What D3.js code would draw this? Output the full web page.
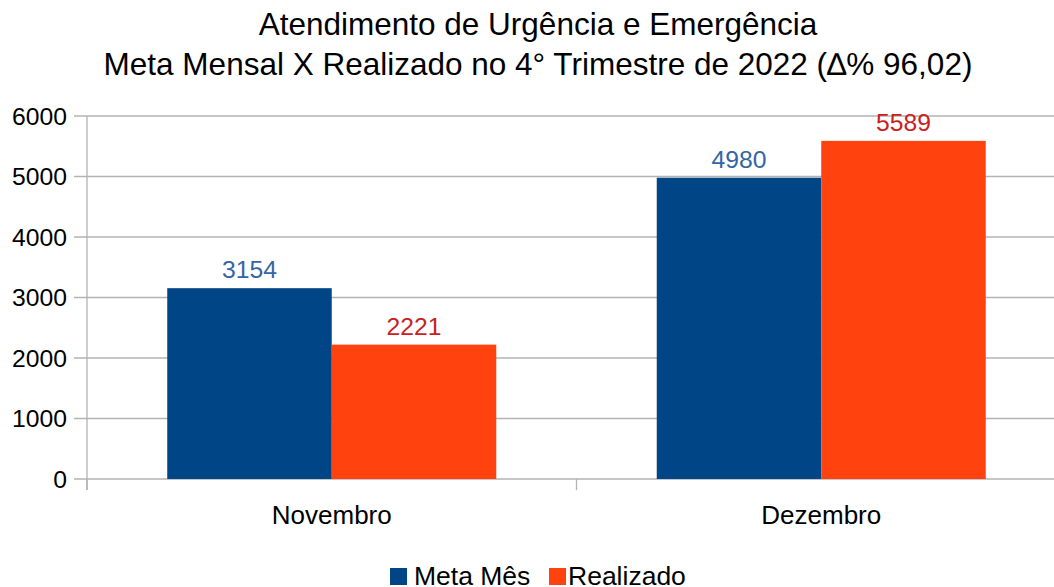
<!DOCTYPE html>
<html>
<head>
<meta charset="utf-8">
<script src="https://cdn.jsdelivr.net/npm/d3@7"></script>
<style>
  body { margin: 0; background: #fff; }
  svg text { font-family: "Liberation Sans", Arial, sans-serif; }
</style>
</head>
<body>
<svg class="chart" width="1054" height="587"></svg>
<script>

// Chart data.
var months = ["Novembro", "Dezembro"];
var seriesNames = ["Meta Mês", "Realizado"];
var metaMes = [3154, 4980];
var realizado = [2221, 5589];
var yTicks = [0, 1000, 2000, 3000, 4000, 5000, 6000];

var barColors = ["#004586", "#ff420e"];
var labelColors = ["#3465a4", "#c9211e"];

var svg = d3.select(".chart");

// Plot area.
var plot = {left: 87, right: 1066, top: 116, bottom: 479};

var y = d3.scaleLinear()
    .domain([0, 6000])
    .range([plot.bottom, plot.top]);

var x = d3.scaleBand()
    .domain(months)
    .range([plot.left, plot.right]);

var inner = d3.scaleBand()
    .domain(seriesNames)
    .range([0, x.bandwidth()])
    .paddingOuter(80 / 164)
    .paddingInner(0);

// Title.
var title = svg.append("text")
    .attr("text-anchor", "middle")
    .style("font-size", "31.5px")
    .attr("fill", "#000");
title.append("tspan").attr("x", 538).attr("y", 35)
    .text("Atendimento de Urgência e Emergência");
title.append("tspan").attr("x", 538).attr("y", 75)
    .text("Meta Mensal X Realizado no 4° Trimestre de 2022 (∆% 96,02)");

// Grid lines.
svg.append("g")
    .selectAll("line")
    .data(yTicks)
    .enter().append("line")
    .attr("x1", plot.left - 13)
    .attr("x2", 1054)
    .attr("y1", function(d) { return y(d); })
    .attr("y2", function(d) { return y(d); })
    .attr("stroke", "#b3b3b3")
    .attr("stroke-width", 1.3);

// Y axis line and labels.
svg.append("line")
    .attr("x1", plot.left).attr("x2", plot.left)
    .attr("y1", plot.top).attr("y2", plot.bottom + 11)
    .attr("stroke", "#b3b3b3")
    .attr("stroke-width", 1.3);

svg.append("g")
    .selectAll("text")
    .data(yTicks)
    .enter().append("text")
    .attr("x", 67)
    .attr("y", function(d) { return y(d); })
    .attr("dy", "0.35em")
    .attr("text-anchor", "end")
    .style("font-size", "24.7px")
    .text(function(d) { return d; });

// X axis ticks and labels.
var xTicks = months.map(function(m) { return x(m); }).concat([plot.right]);
svg.append("g")
    .selectAll("line")
    .data(xTicks)
    .enter().append("line")
    .attr("x1", function(d) { return d; })
    .attr("x2", function(d) { return d; })
    .attr("y1", plot.bottom)
    .attr("y2", plot.bottom + 11)
    .attr("stroke", "#b3b3b3")
    .attr("stroke-width", 1.3);

svg.append("g")
    .selectAll("text")
    .data(months)
    .enter().append("text")
    .attr("x", function(d) { return x(d) + x.bandwidth() / 2; })
    .attr("y", 524)
    .attr("text-anchor", "middle")
    .style("font-size", "26px")
    .text(function(d) { return d; });

// Bars.
var series = [metaMes, realizado];
series.forEach(function(values, s) {
  var g = svg.append("g");
  g.selectAll("rect")
      .data(values)
      .enter().append("rect")
      .attr("x", function(d, i) { return x(months[i]) + inner(seriesNames[s]); })
      .attr("y", function(d) { return y(d); })
      .attr("width", inner.bandwidth())
      .attr("height", function(d) { return plot.bottom - y(d); })
      .attr("fill", barColors[s]);

  g.selectAll("text")
      .data(values)
      .enter().append("text")
      .attr("x", function(d, i) { return x(months[i]) + inner(seriesNames[s]) + inner.bandwidth() / 2; })
      .attr("y", function(d) { return y(d) - 10; })
      .attr("text-anchor", "middle")
      .style("font-size", "24.7px")
      .attr("fill", labelColors[s])
      .text(function(d) { return d; });
});

// Legend.
var legendX = [390, 549];
var legend = svg.append("g")
    .selectAll("g")
    .data(seriesNames)
    .enter().append("g")
    .attr("transform", function(d, i) { return "translate(" + legendX[i] + ",568)"; });

legend.append("rect")
    .attr("width", 17)
    .attr("height", 17)
    .attr("fill", function(d, i) { return barColors[i]; });

legend.append("text")
    .attr("x", function(d, i) { return i == 0 ? 24 : 19; })
    .attr("y", 17)
    .style("font-size", "26.5px")
    .text(function(d) { return d; });

</script>
</body>
</html>
